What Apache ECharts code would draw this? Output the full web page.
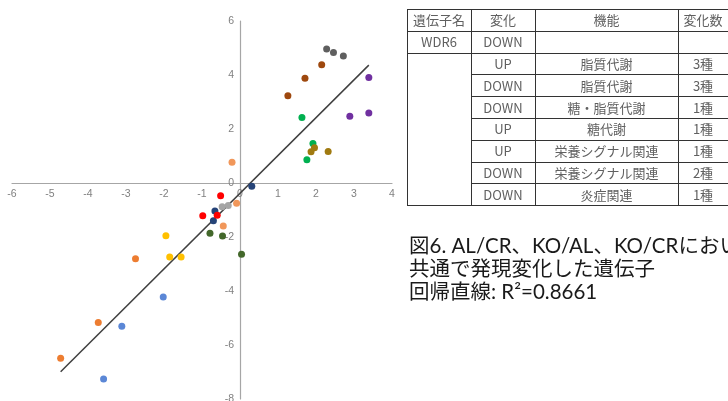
<!DOCTYPE html>
<html><head><meta charset="utf-8">
<script src="https://cdn.jsdelivr.net/npm/echarts@6/dist/echarts.min.js"></script>
<style>html,body{margin:0;padding:0;background:#fff;}#c{width:728px;height:401px;}</style>
</head><body><div id="c"></div>
<script>
// ---- data ----
const xTicks = [-6,-5,-4,-3,-2,-1,0,1,2,3,4];
const yTicks = [-8,-6,-4,-2,0,2,4,6];
const darkGray   = [[2.28,4.96],[2.46,4.83],[2.72,4.70]];
const brown      = [[2.15,4.38],[1.71,3.88],[1.26,3.23]];
const purple     = [[3.39,3.91],[2.89,2.47],[3.39,2.59]];
const green      = [[1.63,2.43],[1.92,1.46],[1.76,0.86]];
const olive      = [[1.96,1.31],[1.87,1.16],[2.32,1.17]];
const lightOrange= [[-0.21,0.77],[-0.09,-0.75],[-0.44,-1.59]];
const navy       = [[0.31,-0.12],[-0.66,-1.04],[-0.70,-1.40]];
const red        = [[-0.51,-0.47],[-0.60,-1.19],[-0.98,-1.21]];
const lightGray  = [[-0.47,-0.88],[-0.31,-0.83]];
const darkGreen  = [[-0.79,-1.86],[-0.46,-1.96],[0.04,-2.64]];
const yellow     = [[-1.95,-1.95],[-1.85,-2.74],[-1.55,-2.74]];
const orange     = [[-2.75,-2.81],[-3.73,-5.17],[-4.72,-6.49]];
const blue       = [[-2.02,-4.22],[-3.11,-5.31],[-3.59,-7.26]];
const regSlope = 1.40, regIntercept = -0.38, regXRange = [-4.72, 3.39];

const tableHeader = ['遺伝子名','変化','機能','変化数'];
const tableRows = [
  ['WDR6','DOWN','',''],
  ['','UP','脂質代謝','3種'],
  ['','DOWN','脂質代謝','3種'],
  ['','DOWN','糖・脂質代謝','1種'],
  ['','UP','糖代謝','1種'],
  ['','UP','栄養シグナル関連','1種'],
  ['','DOWN','栄養シグナル関連','2種'],
  ['','DOWN','炎症関連','1種']
];
const captionLines = ['図6. AL/CR、KO/AL、KO/CRにおいて','共通で発現変化した遺伝子','回帰直線: R²=0.8661'];

// ---- chart ----
const groups = [
  [darkGray,'#5f5f5f'],[brown,'#9e480e'],[purple,'#7030a0'],[green,'#00b050'],
  [olive,'#a07a10'],[lightOrange,'#f1975a'],[navy,'#264478'],[red,'#ff0000'],
  [lightGray,'#a5a5a5'],[darkGreen,'#43682b'],[yellow,'#ffc000'],[orange,'#ed7d31'],[blue,'#5b87d6']
];
const series = [{
  type:'line', data: regXRange.map(x=>[x, regSlope*x+regIntercept]),
  symbol:'none', lineStyle:{color:'#404040', width:1.5}, z:1, silent:true
}];
groups.forEach(([d,c])=>series.push({type:'scatter', data:d, symbolSize:7, itemStyle:{color:c, opacity:1}, z:3}));

// table graphics
const colX = [407,471,535,678,760];
const rowTop = 9, rowH = 21.8;
const g = [];
const allRows = [tableHeader].concat(tableRows);
const nRows = allRows.length;
const lineStyle = {stroke:'#333', lineWidth:1};
for (let r=0; r<=nRows; r++){
  const y = Math.round(rowTop + r*rowH)+0.5;
  const x0 = (r>=3 && r<nRows) ? colX[1] : colX[0];
  g.push({type:'line', shape:{x1:x0,y1:y,x2:colX[4],y2:y}, style:lineStyle, silent:true});
}
const yTop = Math.round(rowTop)+0.5, yBot = Math.round(rowTop+nRows*rowH)+0.5;
colX.forEach(x=>{
  g.push({type:'line', shape:{x1:x+0.5,y1:yTop,x2:x+0.5,y2:yBot}, style:lineStyle, silent:true});
});
allRows.forEach((row,r)=>{
  row.forEach((t,ci)=>{
    if(!t) return;
    const cx = ci===3 ? 703 : (colX[ci]+colX[ci+1])/2;
    g.push({type:'text', x:cx, y:rowTop + r*rowH + rowH/2 + 0.5,
      style:{text:t, align:'center', verticalAlign:'middle', fill:'#606060',
        font:'13px "Noto Sans CJK JP", "Noto Sans", sans-serif'}, silent:true});
  });
});
captionLines.forEach((t,i)=>{
  g.push({type:'text', x:409, y:246 + i*23, style:{text:t, align:'left', verticalAlign:'middle',
    fill:'#1a1a1a', font:'20.5px Lato, "Noto Sans CJK JP", sans-serif'}, silent:true});
});

const axisCommon = {
  axisLine:{onZero:false, lineStyle:{color:'#a6a6a6', width:1.2}},
  axisTick:{show:false}, splitLine:{show:false},
  axisLabel:{color:'#808080', fontSize:10.5, fontFamily:'Arial, "Liberation Sans", sans-serif', margin:6}
};
const grid = {left:12, right:336, top:21, bottom:2, containLabel:false, outerBoundsMode:'none'};
const chart = echarts.init(document.getElementById('c'));
chart.setOption({
  animation:false,
  grid: grid,
  xAxis:Object.assign({type:'value', position:'bottom', min:xTicks[0], max:xTicks[xTicks.length-1], interval:1}, axisCommon),
  yAxis:Object.assign({type:'value', position:'left', min:yTicks[0], max:yTicks[yTicks.length-1], interval:2}, axisCommon),
  series: series,
  graphic: g
});
// move both axes to cross at the origin (labels follow the axis lines)
const origin = chart.convertToPixel({gridIndex:0}, [0,0]);
const minCorner = chart.convertToPixel({gridIndex:0}, [xTicks[0], yTicks[0]]);
chart.setOption({
  xAxis:{offset: -(minCorner[1] - origin[1])},
  yAxis:{offset: -(origin[0] - minCorner[0])}
});
</script></body></html>
